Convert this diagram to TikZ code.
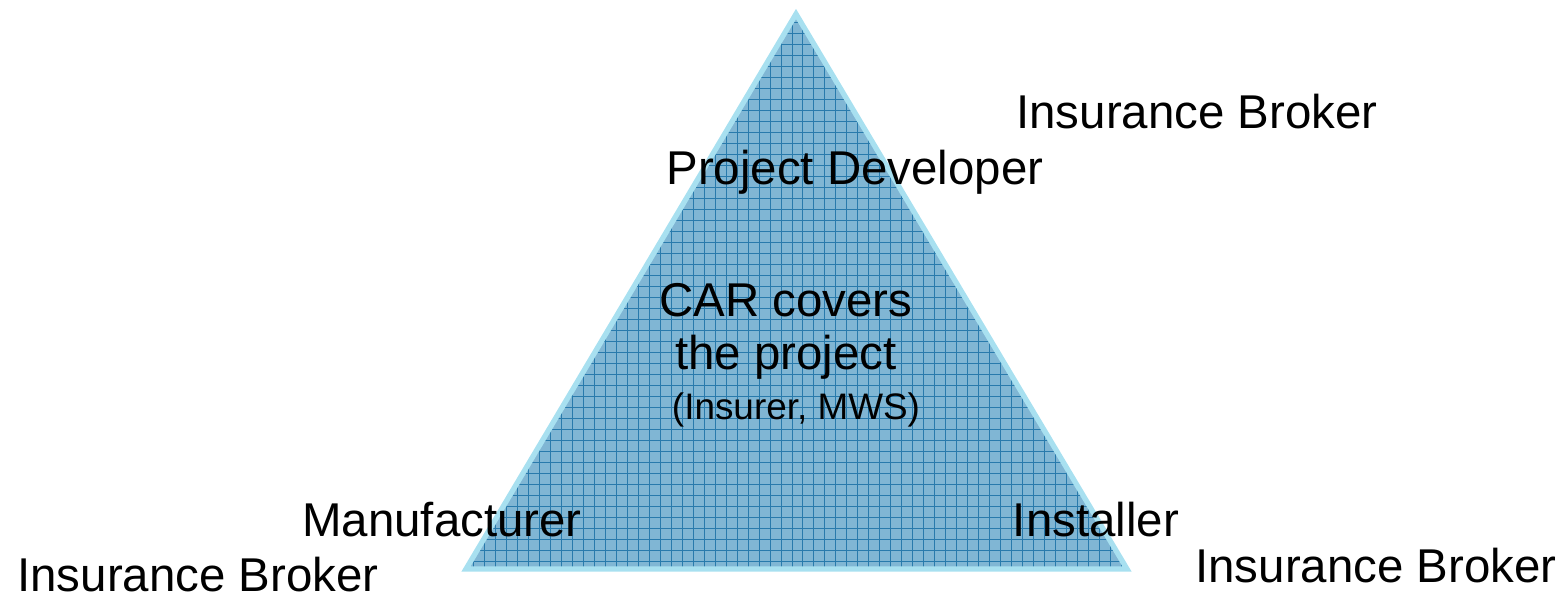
\documentclass[tikz,border=0pt]{standalone}
\usepackage{fontspec}
\setmainfont{Liberation Sans}
\usepackage{tikz}
\usetikzlibrary{positioning,calc}
\definecolor{edgeblue}{RGB}{168,224,240}
\definecolor{fillblue}{RGB}{128,182,212}
\definecolor{gridblue}{RGB}{40,122,172}
\tikzstyle{party} = [font=\fontsize{27}{32}\selectfont, inner sep=0pt, text=black]
\tikzstyle{note} = [font=\fontsize{21}{25}\selectfont, inner sep=0pt, text=black]
\tikzstyle{tri} = [draw=edgeblue, line width=3pt, line join=miter]

\begin{document}
\begin{tikzpicture}[x=0.02cm, y=-0.02cm]
\useasboundingbox (0,0) rectangle (1566,601);
\coordinate (top) at (796,14);
\coordinate (left) at (466,569);
\coordinate (right) at (1127,569);

\fill [fillblue] (top) -- (left) -- (right) -- cycle;
\begin{scope}
\clip (top) -- (left) -- (right) -- cycle;
\draw [gridblue, line width=0.4pt, step=0.22cm] (440,0) grid (1150,580);
\end{scope}
\draw [tri] (top) -- (left) -- (right) -- cycle;

\node (broker1) [party] at (1197,112) {Insurance Broker};
\node (developer) [party] at (855,172) {Project Developer};
\node (car) [party] at (786,300) {CAR covers};
\node (project) [party] at (786,357) {the project};
\node (insurer) [note] at (796,410) {(Insurer, MWS)};
\node (maker) [party] at (442,520) {Manufacturer};
\node (installer) [party] at (1096,520) {Installer};
\node (broker2) [party] at (198,575) {Insurance Broker};
\node (broker3) [party] at (1376,566) {Insurance Broker};
\end{tikzpicture}
\end{document}
